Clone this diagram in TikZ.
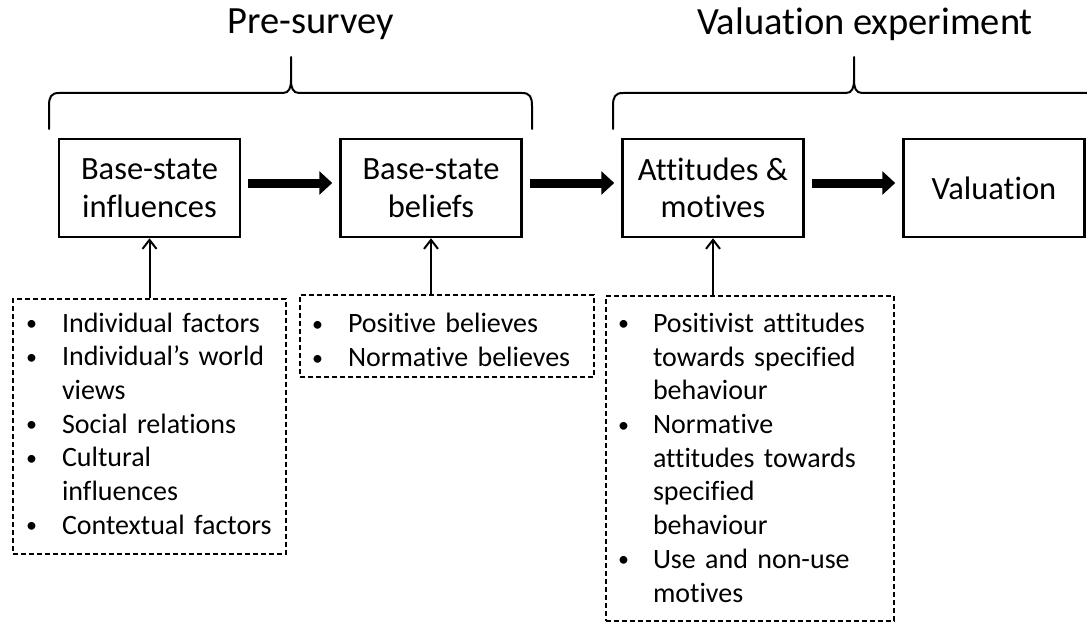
\documentclass[tikz,border=0pt]{standalone}
\usepackage{fontspec}
\setmainfont{Carlito}[Ligatures=NoCommon]
\usepackage{array}
\usetikzlibrary{arrows.meta}
\newcommand{\bul}{\raisebox{1.5pt}{\fontsize{22}{22}\selectfont\textbullet}}
\begin{document}
\begin{tikzpicture}[x=1pt,y=-1pt,
  title/.style={anchor=base, inner sep=0pt, font=\fontsize{38.5}{46}\selectfont},
  stagebox/.style={draw, line width=2.5pt, minimum width=181pt, minimum height=98pt,
    inner sep=0pt, align=center, font=\fontsize{32.5}{37.5}\selectfont},
  listbox/.style={draw, dash pattern=on 5pt off 3pt, line width=1.2pt, inner xsep=0pt, inner ysep=0pt,
    font=\fontsize{28}{33.7}\selectfont},
  flow/.style={line width=9pt, shorten <=7pt, shorten >=7pt, -{Triangle[length=13pt,width=23pt]}},
  feed/.style={line width=2pt, -{Straight Barb[length=9pt,width=14pt]}},
  brace/.style={line width=2pt, line cap=round, line join=round}
]
\useasboundingbox (0,0) rectangle (1087,623);

% titles
\node[title] (pre) at (311,34) {Pre-survey};
\node[title] (val) at (865,35) {Valuation experiment};

% braces
\draw[brace] (49,129) -- (49,106) .. controls (49,97) and (51,93) .. (59,93) -- (283,93)
  .. controls (289,93) and (291,88) .. (291,80) -- (291,57);
\draw[brace] (291,80) .. controls (291,88) and (293,93) .. (299,93) -- (522,93)
  .. controls (530,93) and (532,97) .. (532,106) -- (532,129);
\draw[brace] (613,129) -- (613,106) .. controls (613,97) and (615,93) .. (623,93) -- (846,93)
  .. controls (852,93) and (854,88) .. (854,80) -- (854,57);
\draw[brace] (854,80) .. controls (854,88) and (856,93) .. (862,93) -- (1095,93);

% stage boxes
\node[stagebox] (b1) at (149.5,188) {Base-state\\influences};
\node[stagebox] (b2) at (431,188) {Base-state\\beliefs};
\node[stagebox] (b3) at (713,188) {Attitudes \&\\motives};
\node[stagebox] (b4) at (994,188) {Valuation};

% thick flow arrows
\draw[flow] ([yshift=5pt]b1.east) -- ([yshift=5pt]b2.west);
\draw[flow] ([yshift=5pt]b2.east) -- ([yshift=5pt]b3.west);
\draw[flow] ([yshift=5pt]b3.east) -- ([yshift=5pt]b4.west);

% dashed lists
\node[listbox, text width=273pt, minimum height=255pt] (l1) at (149.5,426.5) {%
  \begin{tabular}{@{\hspace{13pt}}p{36pt}@{}l@{}}
  \bul & Individual factors\\
  \bul & Individual’s world\\
       & views\\
  \bul & Social relations\\
  \bul & Cultural\\
       & influences\\
  \bul & Contextual factors
  \end{tabular}};
\node[listbox, text width=294pt, minimum height=82pt] (l2) at (447,336) {%
  \raisebox{-7pt}[\height][\depth]{%
  \begin{tabular}{@{\hspace{12pt}}p{36pt}@{}l@{}}
  \bul & Positive believes\\
  \bul & Normative believes
  \end{tabular}}};
\node[listbox, text width=288pt, minimum height=325pt] (l3) at (750,458.5) {%
  \raisebox{-2pt}[\height][\depth]{%
  \begin{tabular}{@{\hspace{12pt}}p{35pt}@{}l@{}}
  \bul & Positivist attitudes\\
       & towards specified\\
       & behaviour\\
  \bul & Normative\\
       & attitudes towards\\
       & specified\\
       & behaviour\\
  \bul & Use and non-use\\
       & motives
  \end{tabular}}};

% feeding arrows
\draw[feed] (b1.south |- l1.north) -- (b1.south);
\draw[feed] (b2.south |- l2.north) -- (b2.south);
\draw[feed] (b3.south |- l3.north) -- (b3.south);
\end{tikzpicture}
\end{document}
